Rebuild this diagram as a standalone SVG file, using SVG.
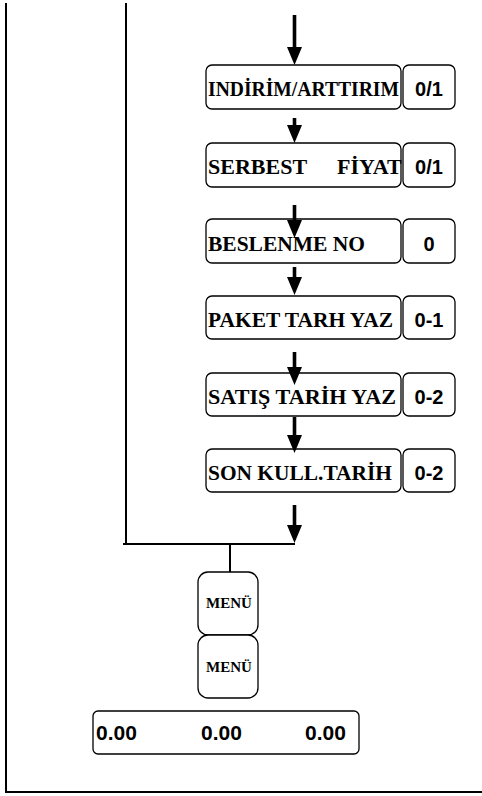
<svg xmlns="http://www.w3.org/2000/svg" width="482" height="796" viewBox="0 0 482 796">
<style>
.box{fill:#fff;stroke:#000;stroke-width:1.3}
.lbl{font-family:"Liberation Serif","Times New Roman",serif;font-weight:bold;font-size:22px;fill:#000}
.val{font-family:"Liberation Sans",Arial,sans-serif;font-weight:bold;font-size:20px;fill:#000;text-anchor:middle}
.menu{font-family:"Liberation Serif","Times New Roman",serif;font-weight:bold;font-size:15px;fill:#000;text-anchor:middle}
.num{font-family:"Liberation Sans",Arial,sans-serif;font-weight:bold;font-size:21px;fill:#000}
.ln{stroke:#000;stroke-width:2;fill:none}
.arr{stroke:#000;stroke-width:3.6;fill:none;marker-end:url(#ah)}
</style>
<defs>
<marker id="ah" markerUnits="userSpaceOnUse" markerWidth="18" markerHeight="15" viewBox="0 0 18 15" refX="2" refY="7.5" orient="auto">
<path d="M0,0 L18,7.5 L0,15 Z" fill="#000"/>
</marker>
</defs>
<rect width="482" height="796" fill="#fff"/>
<g id="frame">
<line class="ln" x1="6" y1="3" x2="6" y2="792"/>
<line class="ln" x1="5" y1="792" x2="482" y2="792"/>
</g>
<g id="n1">
<rect class="box" x="206" y="65" width="195" height="44" rx="6"/>
<text class="lbl" x="208" y="96" style="font-size:20.5px" textLength="191" lengthAdjust="spacingAndGlyphs">INDİRİM/ARTTIRIM</text>
<rect class="box" x="403" y="65" width="52" height="44" rx="6"/>
<text class="val" x="429" y="96">0/1</text>
</g>
<g id="n2">
<rect class="box" x="206" y="143" width="195" height="44" rx="6"/>
<text class="lbl" x="208" y="174">SERBEST<tspan x="337">FİYAT</tspan></text>
<rect class="box" x="403" y="143" width="52" height="44" rx="6"/>
<text class="val" x="429" y="174">0/1</text>
</g>
<g id="n3">
<rect class="box" x="206" y="219" width="195" height="44" rx="6"/>
<text class="lbl" x="208" y="251" textLength="157" lengthAdjust="spacingAndGlyphs">BESLENME NO</text>
<rect class="box" x="403" y="219" width="52" height="44" rx="6"/>
<text class="val" x="429" y="251">0</text>
</g>
<g id="n4">
<rect class="box" x="206" y="296" width="195" height="43" rx="6"/>
<text class="lbl" x="208" y="327" textLength="185" lengthAdjust="spacingAndGlyphs">PAKET TARH YAZ</text>
<rect class="box" x="403" y="296" width="52" height="43" rx="6"/>
<text class="val" x="429" y="327">0-1</text>
</g>
<g id="n5">
<rect class="box" x="206" y="373" width="195" height="43" rx="6"/>
<text class="lbl" x="208" y="404" textLength="188" lengthAdjust="spacingAndGlyphs">SATIŞ TARİH YAZ</text>
<rect class="box" x="403" y="373" width="52" height="43" rx="6"/>
<text class="val" x="429" y="404">0-2</text>
</g>
<g id="n6">
<rect class="box" x="206" y="449" width="195" height="43" rx="6"/>
<text class="lbl" x="208" y="480" textLength="184" lengthAdjust="spacingAndGlyphs">SON KULL.TARİH</text>
<rect class="box" x="403" y="449" width="52" height="43" rx="6"/>
<text class="val" x="429" y="480">0-2</text>
</g>
<g id="menu1">
<rect class="box" x="198" y="572" width="60" height="63" rx="10"/>
<text class="menu" x="229" y="608">MENÜ</text>
</g>
<g id="menu2">
<rect class="box" x="198" y="635" width="60" height="63" rx="10"/>
<text class="menu" x="229" y="672">MENÜ</text>
</g>
<g id="display">
<rect class="box" x="93" y="711" width="266" height="43" rx="5"/>
<text class="num" x="96" y="740">0.00</text>
<text class="num" x="201" y="740">0.00</text>
<text class="num" x="305" y="740">0.00</text>
</g>
<g id="connectors">
<line class="ln" x1="126" y1="3" x2="126" y2="545"/>
<line class="ln" x1="123" y1="544" x2="295" y2="544"/>
<line class="ln" x1="230" y1="544" x2="230" y2="572"/>
<line class="arr" x1="294.5" y1="15" x2="294.5" y2="49"/>
<line class="arr" x1="294.5" y1="118" x2="294.5" y2="127"/>
<line class="arr" x1="294.5" y1="205" x2="294.5" y2="222"/>
<line class="arr" x1="294.5" y1="267" x2="294.5" y2="279"/>
<line class="arr" x1="294.5" y1="352" x2="294.5" y2="369"/>
<line class="arr" x1="294.5" y1="417" x2="294.5" y2="437"/>
<line class="arr" x1="294.5" y1="505" x2="294.5" y2="527"/>
</g>
</svg>
